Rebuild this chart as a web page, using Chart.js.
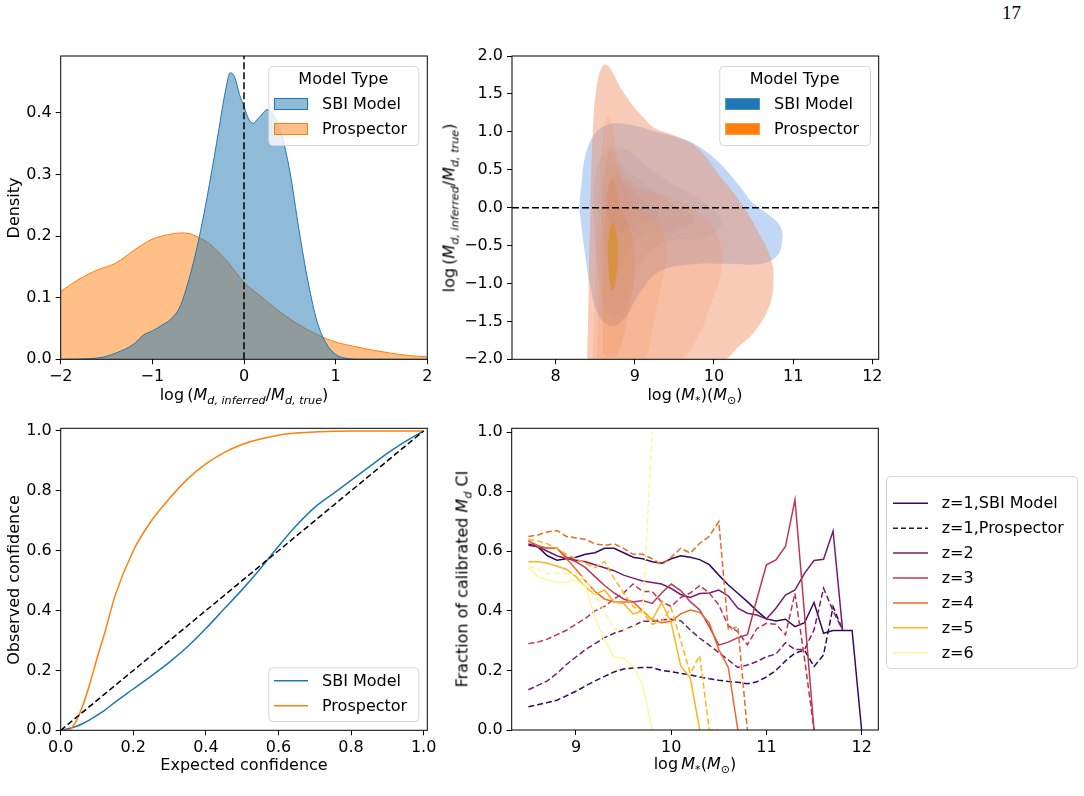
<!DOCTYPE html>
<html>
<head>
<meta charset="utf-8">
<script src="https://cdn.jsdelivr.net/npm/chart.js@4.4.0/dist/chart.umd.min.js"></script>
<style>
  body { margin: 0; background: #fff; width: 1084px; height: 796px; position: relative; overflow: hidden; font-family: 'DejaVu Sans', sans-serif; }
  canvas { position: absolute; }
  .lbl { position: absolute; font-size: 16px; line-height: 1; white-space: nowrap; color: #000; transform: translate(-50%, -50%); }
  .rot { transform: translate(-50%, -50%) rotate(-90deg); }
  .lbl sub { font-size: 70%; vertical-align: -0.35em; }
  .page { position: absolute; left: 1002px; top: 2px; font-family: 'Liberation Serif', serif; font-size: 19px; }
</style>
</head>
<body>
<div class="page">17</div>
<canvas id="p1"></canvas>
<canvas id="p2"></canvas>
<canvas id="p3"></canvas>
<canvas id="p4"></canvas>

<div class="lbl rot" style="left:14px;top:208px">Density</div>
<div class="lbl" style="left:244px;top:397px">log&#8201;(<i>M</i><sub><i>d, inferred</i></sub>/<i>M</i><sub><i>d, true</i></sub>)</div>
<div class="lbl rot" style="left:451px;top:208px">log&#8201;(<i>M</i><sub><i>d, inferred</i></sub>/<i>M</i><sub><i>d, true</i></sub>)</div>
<div class="lbl" style="left:695px;top:397px">log&#8201;(<i>M</i><sub>*</sub>)(<i>M</i><sub>⊙</sub>)</div>
<div class="lbl rot" style="left:14px;top:580px">Observed confidence</div>
<div class="lbl" style="left:244px;top:765px">Expected confidence</div>
<div class="lbl rot" style="left:464px;top:579px">Fraction of calibrated <i>M</i><sub><i>d</i></sub> CI</div>
<div class="lbl" style="left:695px;top:766px">log&#8201;<i>M</i><sub>*</sub>(<i>M</i><sub>⊙</sub>)</div>

<script>
const FONT = "'DejaVu Sans', sans-serif";
const BLUE = '#1f77b4';
const ORANGE = '#ff7f0e';

// ---- panel 1: density of log(Md inferred / Md true)
const sbiX = [-2.0, -1.6, -1.4, -1.2, -1.1, -1.0, -0.9, -0.8, -0.7, -0.6, -0.5, -0.4, -0.3, -0.2, -0.15, -0.1, -0.05, 0.0, 0.05, 0.1, 0.15, 0.2, 0.25, 0.3, 0.4, 0.5, 0.6, 0.7, 0.8, 0.9, 1.0, 1.1, 1.3, 2.0];
const sbiDensity = [0.0, 0.002, 0.01, 0.025, 0.039, 0.046, 0.055, 0.065, 0.085, 0.13, 0.19, 0.265, 0.35, 0.437, 0.465, 0.457, 0.43, 0.41, 0.39, 0.383, 0.39, 0.398, 0.405, 0.4, 0.37, 0.305, 0.21, 0.125, 0.06, 0.025, 0.008, 0.002, 0.0, 0.0];
const prospX = [-2.0, -1.8, -1.6, -1.4, -1.2, -1.0, -0.8, -0.7, -0.6, -0.5, -0.4, -0.3, -0.2, -0.1, 0.0, 0.2, 0.4, 0.6, 0.8, 1.0, 1.2, 1.4, 1.6, 1.8, 2.0];
const prospDensity = [0.11, 0.13, 0.145, 0.156, 0.177, 0.195, 0.203, 0.205, 0.204, 0.198, 0.19, 0.177, 0.162, 0.143, 0.125, 0.1, 0.076, 0.056, 0.04, 0.028, 0.021, 0.015, 0.01, 0.006, 0.004];

// ---- panel 2: KDE contour outlines (log M*, log ratio)
const sbiContour1 = [[8.30, 0.0], [8.33, 0.35], [8.38, 0.7], [8.5, 0.98], [8.65, 1.09], [8.82, 1.11], [9.05, 1.07], [9.2, 1.02], [9.45, 0.95], [9.7, 0.87], [9.95, 0.7], [10.15, 0.5], [10.35, 0.25], [10.5, 0.05], [10.7, -0.1], [10.84, -0.25], [10.86, -0.45], [10.8, -0.63], [10.6, -0.74], [10.2, -0.74], [9.7, -0.75], [9.3, -0.85], [9.05, -1.15], [8.88, -1.45], [8.72, -1.56], [8.56, -1.45], [8.45, -1.1], [8.37, -0.6], [8.30, 0.0]];
const sbiContour2 = [[8.48, 0.2], [8.53, 0.55], [8.68, 0.78], [8.9, 0.76], [9.15, 0.55], [9.5, 0.3], [9.9, 0.05], [10.1, -0.2], [9.9, -0.4], [9.4, -0.45], [9.1, -0.7], [8.95, -1.1], [8.8, -1.4], [8.65, -1.35], [8.54, -0.9], [8.49, -0.3], [8.48, 0.2]];
const sbiContour3 = [[8.58, 0.1], [8.63, 0.48], [8.8, 0.58], [9.0, 0.42], [9.4, 0.1], [9.75, -0.15], [9.5, -0.3], [9.1, -0.36], [8.92, -0.6], [8.75, -0.85], [8.61, -0.5], [8.58, 0.1]];
const sbiContour4 = [[8.64, 0.15], [8.72, 0.42], [8.86, 0.36], [9.1, 0.1], [9.3, -0.1], [9.05, -0.2], [8.82, -0.32], [8.67, -0.12], [8.64, 0.15]];
const prospContour1 = [[8.40, -2.0], [8.42, -1.0], [8.44, 0.0], [8.47, 1.0], [8.52, 1.6], [8.6, 1.88], [8.68, 1.85], [8.8, 1.62], [8.95, 1.38], [9.1, 1.2], [9.25, 1.05], [9.5, 0.95], [9.8, 0.78], [10.05, 0.45], [10.3, 0.12], [10.55, -0.3], [10.72, -0.68], [10.75, -0.95], [10.7, -1.3], [10.5, -1.65], [10.3, -1.84], [10.12, -2.0], [8.40, -2.0]];
const prospContour2 = [[8.47, -2.0], [8.5, -1.0], [8.55, 0.3], [8.6, 0.95], [8.65, 1.2], [8.72, 1.1], [8.8, 0.6], [9.0, 0.3], [9.4, 0.15], [9.8, -0.05], [10.05, -0.4], [10.1, -0.8], [9.95, -1.3], [9.8, -1.7], [9.55, -2.0], [8.47, -2.0]];
const prospContour3 = [[8.52, -2.0], [8.55, -1.0], [8.6, 0.2], [8.66, 0.75], [8.72, 0.8], [8.8, 0.45], [9.0, 0.05], [9.3, -0.2], [9.4, -0.6], [9.3, -1.2], [9.2, -1.7], [9.1, -2.0], [8.52, -2.0]];
const prospContour4 = [[8.6, -1.92], [8.6, -1.0], [8.63, -0.2], [8.68, 0.35], [8.74, 0.35], [8.82, 0.0], [8.95, -0.3], [9.0, -0.8], [8.92, -1.4], [8.8, -1.9], [8.7, -1.98], [8.6, -1.92]];
const prospContour5 = [[8.66, -0.6], [8.68, -0.3], [8.72, -0.2], [8.76, -0.3], [8.79, -0.6], [8.76, -0.95], [8.72, -1.1], [8.68, -0.95], [8.66, -0.6]];

// ---- panel 3: calibration curves
const expectedConf = [0, 0.02, 0.04, 0.06, 0.08, 0.1, 0.12, 0.15, 0.2, 0.25, 0.3, 0.35, 0.4, 0.45, 0.5, 0.55, 0.6, 0.65, 0.7, 0.75, 0.8, 0.85, 0.9, 0.95, 1.0];
const sbiObserved = [0, 0.005, 0.012, 0.022, 0.035, 0.05, 0.066, 0.094, 0.138, 0.182, 0.228, 0.28, 0.34, 0.405, 0.47, 0.54, 0.615, 0.685, 0.745, 0.79, 0.835, 0.88, 0.925, 0.965, 1.0];
const prospObserved = [0, 0.0, 0.025, 0.08, 0.155, 0.24, 0.32, 0.45, 0.6, 0.7, 0.775, 0.84, 0.89, 0.928, 0.955, 0.973, 0.986, 0.993, 0.997, 0.999, 1.0, 1.0, 1.0, 1.0, 1.0];

// ---- panel 4: fraction of calibrated Md CI per stellar mass bin
const massBins = [8.5, 8.6, 8.7, 8.8, 8.9, 9.0, 9.1, 9.2, 9.3, 9.4, 9.5, 9.6, 9.7, 9.8, 9.9, 10.0, 10.1, 10.2, 10.3, 10.4, 10.5, 10.6, 10.7, 10.8, 10.9, 11.0, 11.1, 11.2, 11.3, 11.4, 11.5, 11.6, 11.7, 11.8, 11.9, 12.0];
const z1Sbi = [0.625, 0.615, 0.585, 0.57, 0.575, 0.58, 0.59, 0.595, 0.61, 0.61, 0.595, 0.58, 0.575, 0.565, 0.56, 0.575, 0.585, 0.58, 0.572, 0.555, 0.52, 0.487, 0.459, 0.431, 0.40, 0.373, 0.366, 0.372, 0.347, 0.36, 0.428, 0.325, 0.334, 0.334, 0.334, 0.0];
const z1Prosp = [0.078, 0.085, 0.092, 0.10, 0.115, 0.13, 0.148, 0.165, 0.18, 0.195, 0.205, 0.208, 0.21, 0.21, 0.2, 0.196, 0.19, 0.185, 0.178, 0.172, 0.167, 0.163, 0.16, 0.155, 0.162, 0.178, 0.2, 0.232, 0.258, 0.268, 0.213, 0.252, 0.414, 0.336, null, null];
const z2Sbi = [0.62, 0.615, 0.60, 0.585, 0.575, 0.57, 0.565, 0.555, 0.545, 0.535, 0.52, 0.51, 0.50, 0.495, 0.49, 0.475, 0.455, 0.445, 0.458, 0.46, 0.47, 0.45, 0.409, 0.392, 0.386, 0.373, 0.409, 0.453, 0.47, 0.526, 0.569, 0.573, 0.668, 0.336, null, null];
const z2Prosp = [0.135, 0.15, 0.165, 0.19, 0.22, 0.245, 0.27, 0.29, 0.31, 0.325, 0.335, 0.35, 0.365, 0.365, 0.37, 0.372, 0.367, 0.336, 0.308, 0.285, 0.26, 0.235, 0.21, 0.218, 0.23, 0.246, 0.255, 0.293, 0.27, 0.27, 0.336, 0.476, 0.40, 0.336, null, null];
const z3Sbi = [0.635, 0.615, 0.61, 0.61, 0.58, 0.565, 0.545, 0.515, 0.485, 0.46, 0.44, 0.43, 0.435, 0.425, 0.46, 0.49, 0.468, 0.431, 0.403, 0.347, 0.285, 0.295, 0.31, 0.32, 0.44, 0.555, 0.571, 0.616, 0.773, 0.39, 0.0, null, null, null, null, null];
const z3Prosp = [0.29, 0.295, 0.305, 0.32, 0.335, 0.355, 0.375, 0.4, 0.415, 0.44, 0.46, 0.49, 0.465, 0.465, 0.43, 0.415, 0.445, 0.46, 0.485, 0.46, 0.42, 0.35, 0.33, 0.286, 0.34, 0.358, 0.355, 0.319, 0.459, 0.24, 0.0, null, null, null, null, null];
const z4Sbi = [0.635, 0.62, 0.61, 0.61, 0.575, 0.54, 0.5, 0.465, 0.44, 0.43, 0.43, 0.43, 0.4, 0.37, 0.36, 0.365, 0.39, 0.403, 0.395, 0.36, 0.27, 0.21, 0.0, null, null, null, null, null, null, null, null, null, null, null, null, null];
const z4Prosp = [0.65, 0.655, 0.665, 0.67, 0.65, 0.645, 0.64, 0.625, 0.62, 0.625, 0.61, 0.59, 0.59, 0.575, 0.555, 0.58, 0.61, 0.594, 0.627, 0.65, 0.70, 0.336, 0.347, 0.0, null, null, null, null, null, null, null, null, null, null, null, null];
const z5Sbi = [0.565, 0.565, 0.56, 0.55, 0.54, 0.515, 0.48, 0.455, 0.47, 0.43, 0.425, 0.39, 0.40, 0.37, 0.428, 0.36, 0.215, 0.175, 0.0, null, null, null, null, null, null, null, null, null, null, null, null, null, null, null, null, null];
const z5Prosp = [0.64, 0.635, 0.625, 0.61, 0.59, 0.575, 0.56, 0.545, 0.565, 0.51, 0.46, 0.415, 0.395, 0.355, 0.365, 0.41, 0.3, 0.19, 0.25, 0.0, 0.0, null, null, null, null, null, null, null, null, null, null, null, null, null, null, null];
const z6Sbi = [0.545, 0.515, 0.505, 0.495, 0.495, 0.505, 0.48, 0.38, 0.30, 0.245, 0.24, 0.215, 0.15, 0.0, null, null, null, null, null, null, null, null, null, null, null, null, null, null, null, null, null, null, null, null, null, null];
const z6Prosp = [0.55, 0.54, 0.525, 0.525, 0.525, 0.525, 0.505, 0.455, 0.40, 0.34, 0.335, 0.345, 0.39, 1.0, null, null, null, null, null, null, null, null, null, null, null, null, null, null, null, null, null, null, null, null, null, null];
const zColors = ['#320a5e', '#781c6d', '#bc3754', '#ed6925', '#fbb61a', '#fcf99c'];

function pts(xs, ys) { return xs.map((x, i) => ({ x: x, y: ys[i] })); }
function pairs(arr) { return arr.map(p => ({ x: p[0], y: p[1] })); }
function minus(v, d) { const s = Math.abs(v).toFixed(d); return v < -1e-9 ? '\u2212' + s : s; }

function axis(cfg, size, isY) {
    return {
        type: 'linear', min: cfg.min, max: cfg.max,
        border: { display: false },
        grid: { display: true, drawOnChartArea: false, drawTicks: true, tickLength: 5, tickWidth: 1, tickColor: '#000' },
        ticks: { color: '#000', font: { size: 16, family: FONT }, padding: isY ? 4 : 3, maxRotation: 0, autoSkip: false,
                 callback: v => minus(v, cfg.dec) },
        afterBuildTicks: s => { s.ticks = cfg.ticks.map(v => ({ value: v })); },
        afterFit: s => {
            if (isY) s.width = size; else s.height = size;
            s.paddingLeft = 0; s.paddingRight = 0; s.paddingTop = 0; s.paddingBottom = 0;
        }
    };
}

const framePlugin = {
    id: 'frame',
    afterDatasetsDraw(chart) {
        const { ctx, chartArea: a } = chart;
        ctx.save();
        ctx.strokeStyle = '#000';
        ctx.lineWidth = 1;
        ctx.strokeRect(a.left, a.top, a.right - a.left, a.bottom - a.top);
        ctx.restore();
    }
};

function legendPlugin(cfg, box) {
    return {
        id: 'boxLegend',
        afterDraw(chart) {
            if (!cfg) return;
            const ctx = chart.ctx;
            const x = cfg.x - box.x, y = cfg.y - box.y;
            ctx.save();
            ctx.beginPath();
            ctx.roundRect(x + 0.5, y + 0.5, cfg.w, cfg.h, 4);
            ctx.fillStyle = 'rgba(255,255,255,0.8)';
            ctx.fill();
            ctx.strokeStyle = '#d6d6d6';
            ctx.lineWidth = 1;
            ctx.stroke();
            ctx.font = '16px ' + FONT;
            ctx.fillStyle = '#000';
            ctx.textBaseline = 'middle';
            if (cfg.title) {
                ctx.textAlign = 'center';
                ctx.fillText(cfg.title, x + cfg.w / 2, cfg.titleY - box.y);
            }
            ctx.textAlign = 'left';
            cfg.items.forEach((it, i) => {
                const cy = cfg.rowY + i * cfg.rowGap - box.y;
                const kx = cfg.keyX - box.x;
                if (it.patch) {
                    ctx.fillStyle = it.fill;
                    ctx.fillRect(kx, cy - 6, cfg.keyW, 12);
                    ctx.strokeStyle = it.edge;
                    ctx.lineWidth = 1;
                    ctx.strokeRect(kx + 0.5, cy - 5.5, cfg.keyW - 1, 11);
                } else {
                    ctx.strokeStyle = it.color;
                    ctx.lineWidth = 1.5;
                    ctx.setLineDash(it.dash || []);
                    ctx.beginPath();
                    ctx.moveTo(kx, cy);
                    ctx.lineTo(kx + cfg.keyW, cy);
                    ctx.stroke();
                    ctx.setLineDash([]);
                }
                ctx.fillStyle = '#000';
                ctx.fillText(it.label, cfg.textX - box.x, cy + 1);
            });
            ctx.restore();
        }
    };
}

function makePanel(id, box, area, xCfg, yCfg, datasets, legendCfg) {
    const cv = document.getElementById(id);
    cv.width = box.w;
    cv.height = box.h;
    cv.style.left = box.x + 'px';
    cv.style.top = box.y + 'px';
    return new Chart(cv, {
        type: 'scatter',
        data: { datasets: datasets },
        options: {
            responsive: false,
            animation: false,
            events: [],
            layout: { padding: { left: 0, top: area.t - box.y, right: box.x + box.w - area.r, bottom: 0 } },
            plugins: { legend: { display: false }, tooltip: { enabled: false } },
            scales: {
                x: axis(xCfg, box.y + box.h - area.b, false),
                y: axis(yCfg, area.l - box.x, true)
            }
        },
        plugins: [framePlugin, legendPlugin(legendCfg, box)]
    });
}

function line(data, color, width, dash, extra) {
    return Object.assign({ data: data, showLine: true, pointRadius: 0, borderColor: color, borderWidth: width,
                           borderDash: dash || [], fill: false, tension: 0 }, extra || {});
}
function blob(arr, color) {
    return { data: pairs(arr), showLine: true, pointRadius: 0, borderWidth: 0, borderColor: 'rgba(0,0,0,0)',
             backgroundColor: color, fill: 'shape', tension: 0.4 };
}

// Panel 1 (first dataset is drawn on top)
makePanel('p1', { x: 0, y: 40, w: 440, h: 380 }, { l: 60.7, t: 56, r: 427.3, b: 359.3 },
    { min: -2, max: 2, ticks: [-2, -1, 0, 1, 2], dec: 0 },
    { min: 0, max: 0.492, ticks: [0, 0.1, 0.2, 0.3, 0.4], dec: 1 },
    [
        line([{ x: 0, y: 0 }, { x: 0, y: 0.492 }], '#000', 1.5, [7, 3]),
        line(pts(sbiX, sbiDensity), BLUE, 1, [], { fill: 'origin', backgroundColor: 'rgba(31,119,180,0.5)', cubicInterpolationMode: 'monotone' }),
        line(pts(prospX, prospDensity), ORANGE, 1, [], { fill: 'origin', backgroundColor: 'rgba(255,127,14,0.5)', cubicInterpolationMode: 'monotone' })
    ],
    { x: 268.3, y: 66, w: 150, h: 79, title: 'Model Type', titleY: 80, rowY: 104, rowGap: 25, keyX: 274, keyW: 34, textX: 322,
      items: [
        { label: 'SBI Model', patch: true, fill: 'rgba(31,119,180,0.5)', edge: BLUE },
        { label: 'Prospector', patch: true, fill: 'rgba(255,127,14,0.5)', edge: ORANGE }
      ] });

// Panel 2
makePanel('p2', { x: 440, y: 40, w: 444, h: 380 }, { l: 512, t: 56, r: 878.7, b: 359.3 },
    { min: 7.45, max: 12.08, ticks: [8, 9, 10, 11, 12], dec: 0 },
    { min: -2, max: 2, ticks: [-2, -1.5, -1, -0.5, 0, 0.5, 1, 1.5, 2], dec: 1 },
    [
        line([{ x: 7.45, y: 0 }, { x: 12.08, y: 0 }], '#000', 1.5, [7, 3]),
        blob(prospContour5, 'rgba(215,140,30,0.6)'),
        blob(prospContour4, 'rgba(235,120,50,0.18)'),
        blob(prospContour3, 'rgba(240,130,60,0.15)'),
        blob(prospContour2, 'rgba(240,130,70,0.15)'),
        blob(prospContour1, 'rgba(240,140,95,0.45)'),
        blob(sbiContour4, 'rgba(80,115,170,0.09)'),
        blob(sbiContour3, 'rgba(80,115,170,0.09)'),
        blob(sbiContour2, 'rgba(80,115,170,0.1)'),
        blob(sbiContour1, 'rgba(110,160,230,0.42)')
    ],
    { x: 719.3, y: 66, w: 150.7, h: 79, title: 'Model Type', titleY: 80, rowY: 104, rowGap: 25, keyX: 725.3, keyW: 34.7, textX: 774,
      items: [
        { label: 'SBI Model', patch: true, fill: BLUE, edge: '#4a93c6' },
        { label: 'Prospector', patch: true, fill: ORANGE, edge: '#ff9a45' }
      ] });

// Panel 3
makePanel('p3', { x: 0, y: 415, w: 440, h: 380 }, { l: 60.7, t: 428.3, r: 427.3, b: 730.3 },
    { min: 0, max: 1.0102, ticks: [0, 0.2, 0.4, 0.6, 0.8, 1.0], dec: 1 },
    { min: 0, max: 1.009, ticks: [0, 0.2, 0.4, 0.6, 0.8, 1.0], dec: 1 },
    [
        line([{ x: 0, y: 0 }, { x: 1, y: 1 }], '#000', 1.5, [6, 3]),
        line(pts(expectedConf, prospObserved), ORANGE, 1.5, [], { cubicInterpolationMode: 'monotone' }),
        line(pts(expectedConf, sbiObserved), BLUE, 1.5, [], { cubicInterpolationMode: 'monotone' })
    ],
    { x: 268.3, y: 667.3, w: 150, h: 53.7, rowY: 680.7, rowGap: 25, keyX: 274, keyW: 34, textX: 322,
      items: [
        { label: 'SBI Model', color: BLUE },
        { label: 'Prospector', color: ORANGE }
      ] });

// Panel 4 (reversed so that higher redshift lines sit on top)
const dashed = [6, 3];
makePanel('p4', { x: 440, y: 415, w: 644, h: 380 }, { l: 511.7, t: 428.3, r: 878.3, b: 730 },
    { min: 8.325, max: 12.175, ticks: [9, 10, 11, 12], dec: 0 },
    { min: 0, max: 1.013, ticks: [0, 0.2, 0.4, 0.6, 0.8, 1.0], dec: 1 },
    [
        line(pts(massBins, z1Sbi), zColors[0], 1.5),
        line(pts(massBins, z1Prosp), zColors[0], 1.5, dashed),
        line(pts(massBins, z2Sbi), zColors[1], 1.5),
        line(pts(massBins, z2Prosp), zColors[1], 1.5, dashed),
        line(pts(massBins, z3Sbi), zColors[2], 1.5),
        line(pts(massBins, z3Prosp), zColors[2], 1.5, dashed),
        line(pts(massBins, z4Sbi), zColors[3], 1.5),
        line(pts(massBins, z4Prosp), zColors[3], 1.5, dashed),
        line(pts(massBins, z5Sbi), zColors[4], 1.5),
        line(pts(massBins, z5Prosp), zColors[4], 1.5, dashed),
        line(pts(massBins, z6Sbi), zColors[5], 1.5),
        line(pts(massBins, z6Prosp), zColors[5], 1.5, dashed)
    ].reverse(),
    { x: 886, y: 476, w: 191, h: 192, rowY: 503.3, rowGap: 24.9, keyX: 893, keyW: 35, textX: 941.7,
      items: [
        { label: 'z=1,SBI Model', color: zColors[0] },
        { label: 'z=1,Prospector', color: zColors[0], dash: [5, 3] },
        { label: 'z=2', color: zColors[1] },
        { label: 'z=3', color: zColors[2] },
        { label: 'z=4', color: zColors[3] },
        { label: 'z=5', color: zColors[4] },
        { label: 'z=6', color: zColors[5] }
      ] });
</script>
</body>
</html>
